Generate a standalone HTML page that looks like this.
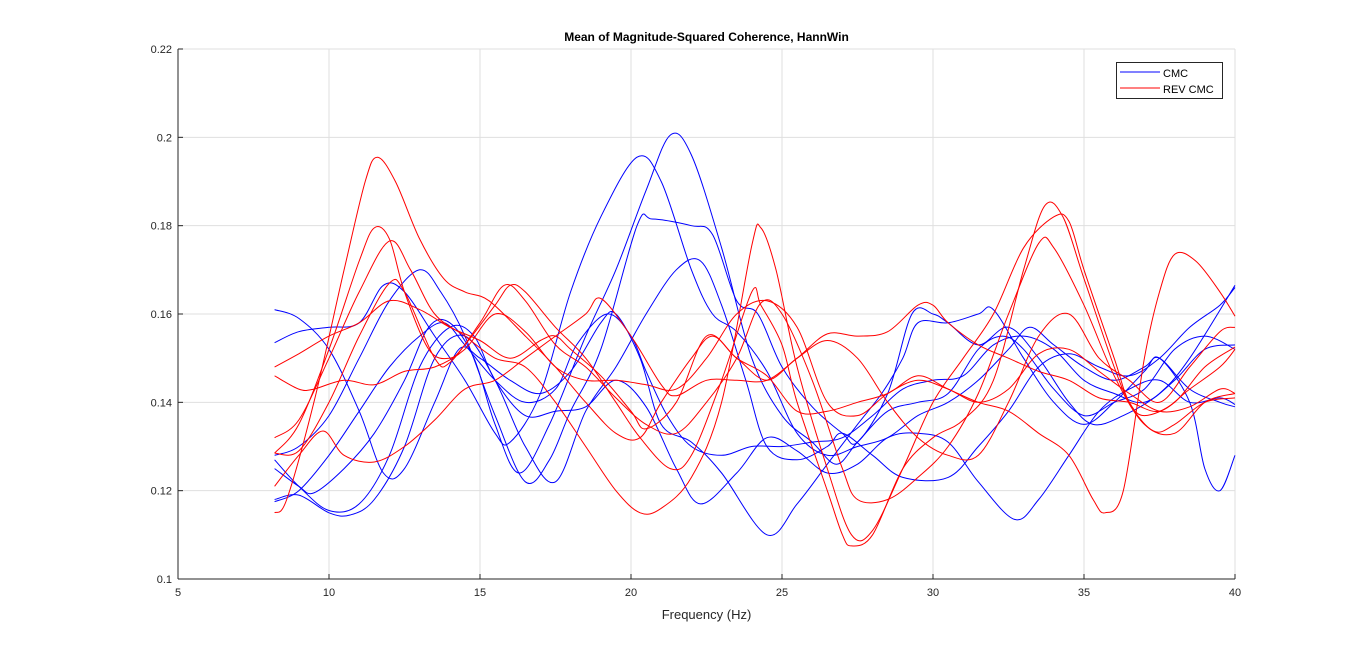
<!DOCTYPE html>
<html><head><meta charset="utf-8"><style>
body{margin:0;background:#fff;width:1366px;height:651px;overflow:hidden;font-family:"Liberation Sans",sans-serif}
</style></head><body>
<svg id="chart" width="1366" height="651" xmlns="http://www.w3.org/2000/svg" font-family="Liberation Sans, sans-serif"></svg>
<script>
const xTicks=[5,10,15,20,25,30,35,40];
const yTicks=[0.1,0.12,0.14,0.16,0.18,0.2,0.22];
const yTickLabels=["0.1","0.12","0.14","0.16","0.18","0.2","0.22"];
const cmcSeries=[
[[8.2,.1535],[9,.156],[10,.157],[11,.158],[11.8,.1665],[12.5,.165],[13.5,.155],[14.5,.145],[15.5,.133],[16,.131],[17,.142],[18,.165],[19,.182],[20.2,.1955],[21,.19],[22,.17],[22.7,.16],[23.5,.156],[24.5,.147],[25.5,.133],[26.5,.128],[27.5,.13],[28.5,.132],[29.5,.137],[30.5,.14],[31.5,.145],[32.5,.152],[33.2,.157],[34,.153],[35,.148],[36,.145],[37,.148],[37.5,.15],[38.5,.143],[39.5,.14],[40,.139]],
[[8.2,.161],[9,.159],[10,.152],[11,.138],[11.8,.124],[12.5,.125],[13.5,.14],[14.3,.152],[15,.15],[16,.145],[17,.142],[18,.147],[19,.158],[19.5,.16],[20.3,.15],[21,.135],[22,.131],[23,.124],[24.5,.11],[25.5,.117],[26.5,.126],[27.5,.135],[28.3,.142],[29,.15],[29.5,.158],[30.5,.158],[31.5,.16],[32,.161],[33,.15],[34,.14],[35,.135],[36,.14],[37,.147],[37.5,.15],[38.5,.14],[39,.125],[39.5,.12],[40,.128]],
[[8.2,.128],[9,.13],[10,.137],[11,.15],[12,.163],[13,.17],[13.7,.165],[14.5,.155],[15.5,.137],[16.5,.122],[17.3,.127],[18,.138],[19,.152],[20.2,.18],[20.7,.1815],[22,.18],[22.7,.178],[23.5,.163],[24.2,.16],[25,.148],[26,.139],[27,.133],[27.5,.131],[28.5,.142],[29.3,.16],[30,.16],[30.5,.158],[31.5,.153],[32.5,.157],[33.5,.15],[34.5,.14],[35.3,.135],[36.3,.137],[37.5,.142],[38.5,.15],[40,.1665]],
[[8.2,.125],[9,.121],[9.5,.1195],[10.5,.125],[11.5,.133],[12.5,.145],[13.3,.157],[14,.158],[14.8,.15],[15.5,.135],[16.3,.124],[17.3,.135],[18.5,.155],[19.5,.17],[20.5,.188],[21.3,.2005],[22,.196],[23,.175],[24,.15],[25,.137],[26,.131],[26.8,.126],[27.5,.131],[28.5,.138],[29.5,.14],[30.5,.142],[31.5,.152],[32.3,.155],[33,.152],[34,.143],[35,.137],[36,.14],[37,.143],[38,.152],[39,.155],[40,.152]],
[[8.2,.118],[9,.119],[10,.115],[10.7,.1145],[11.5,.118],[12.5,.13],[13.5,.15],[14.5,.155],[15.5,.145],[16.5,.13],[17.5,.122],[18.5,.138],[19.5,.148],[20.5,.16],[21.5,.17],[22.3,.172],[23,.162],[23.8,.145],[24.5,.13],[25.5,.127],[26.5,.13],[27,.133],[28,.128],[29,.123],[30.5,.123],[31.5,.13],[32.5,.138],[33.5,.148],[34.5,.151],[35.5,.148],[36.5,.146],[37.5,.15],[38.5,.157],[39.5,.162],[40,.166]],
[[8.2,.127],[9,.121],[10,.1155],[11,.117],[12,.128],[13,.148],[14,.157],[14.8,.155],[15.5,.145],[16.5,.137],[17.5,.138],[18.5,.139],[19.5,.145],[20.5,.139],[21.5,.125],[22.3,.117],[23.5,.124],[24.5,.132],[25.5,.129],[26.5,.124],[27.5,.126],[28.5,.132],[29.5,.133],[30.5,.131],[31.5,.122],[32.7,.1135],[33.5,.118],[34.5,.128],[35.5,.138],[36.5,.143],[37.5,.145],[38.5,.14],[39.5,.141],[40,.1395]],
[[8.2,.1175],[9,.12],[10,.128],[11,.138],[12,.148],[13,.155],[13.8,.158],[14.5,.153],[15.5,.145],[16.5,.14],[17.5,.143],[18.2,.153],[19.2,.16],[20,.155],[20.5,.147],[21.2,.137],[22,.13],[23,.128],[24,.13],[25,.13],[26,.131],[27,.132],[28,.137],[29,.143],[30,.145],[31,.146],[32,.153],[33,.155],[34,.152],[35,.145],[36,.142],[37,.14],[38,.145],[39,.152],[40,.153]]
];
const revSeries=[
[[8.2,.115],[8.6,.118],[9.5,.14],[10.5,.17],[11.2,.19],[11.6,.1955],[12.2,.19],[13,.177],[13.8,.168],[14.5,.165],[15.3,.163],[16.5,.155],[17.5,.148],[18.5,.14],[19.5,.133],[20.3,.132],[21,.14],[22,.15],[22.7,.155],[23.5,.15],[24.5,.146],[25.5,.138],[26.5,.138],[27.5,.14],[28.5,.142],[29.5,.146],[30.5,.143],[31.5,.14],[32.5,.138],[33.5,.133],[34.5,.128],[35.3,.118],[35.7,.115],[36.3,.12],[37,.15],[37.5,.165],[38,.1735],[38.7,.172],[39.5,.165],[40,.1595]],
[[8.2,.1285],[9,.135],[10,.152],[11,.172],[11.5,.1795],[12,.177],[12.5,.165],[13.3,.152],[14,.15],[14.5,.153],[15.5,.162],[16,.1665],[16.5,.165],[17.5,.157],[18.5,.15],[19.5,.14],[20.3,.132],[21.3,.125],[22,.128],[23,.145],[24,.165],[24.3,.162],[25,.153],[25.5,.14],[26.5,.12],[27,.11],[27.3,.1075],[28,.11],[29,.125],[30,.132],[31,.136],[32,.145],[33,.17],[33.7,.1845],[34.3,.182],[35,.168],[36,.148],[36.5,.14],[37,.137],[38,.14],[39,.148],[40,.1525]],
[[8.2,.132],[9,.136],[10,.15],[11,.165],[12,.1765],[12.7,.17],[13.5,.16],[14.5,.155],[15.5,.15],[16.5,.148],[17.5,.14],[18.5,.13],[19.5,.12],[20.3,.115],[21,.116],[22,.123],[23,.14],[24,.1755],[24.3,.1795],[24.8,.17],[25.5,.148],[26.5,.125],[27.3,.11],[28,.111],[29,.125],[30,.14],[31,.15],[32,.16],[33,.175],[34,.182],[34.5,.181],[35,.17],[36,.15],[36.5,.14],[37.3,.1335],[38,.135],[39,.14],[40,.141]],
[[8.2,.1285],[9,.129],[10,.14],[11,.155],[12,.167],[12.5,.165],[13.5,.15],[14,.149],[15,.158],[15.8,.1665],[16.5,.163],[17.5,.153],[18.5,.148],[19.5,.141],[20.5,.135],[21.5,.133],[22.5,.14],[23.5,.15],[24.3,.1625],[25,.16],[26,.145],[27,.125],[27.5,.118],[28.5,.118],[29.5,.123],[30.5,.13],[31.5,.142],[32.5,.16],[33.5,.176],[34,.175],[35,.162],[36,.146],[37,.135],[38,.133],[39,.14],[40,.142]],
[[8.2,.146],[9,.143],[9.5,.143],[10.5,.145],[11.5,.144],[12.5,.147],[13.5,.148],[14.5,.152],[15.5,.16],[16.5,.156],[17.5,.148],[18.5,.145],[19.5,.145],[20.5,.144],[21.5,.143],[22.5,.15],[23.5,.16],[24.5,.163],[25.5,.157],[26.5,.14],[27.5,.137],[28.5,.142],[29.5,.145],[30.5,.143],[31.5,.14],[32.5,.143],[33.5,.151],[34.5,.152],[35.5,.147],[36.5,.142],[37.5,.138],[38.5,.139],[39.5,.143],[40,.142]],
[[8.2,.121],[9,.128],[9.8,.1335],[10.5,.128],[11.5,.1265],[12.5,.13],[13.5,.136],[14.5,.143],[15.5,.145],[16.5,.15],[17.5,.155],[18.5,.16],[19,.1635],[20,.155],[21,.144],[21.5,.1415],[22.5,.145],[23.5,.145],[24.5,.145],[25.5,.15],[26.5,.1555],[27.5,.155],[28.5,.156],[29.5,.162],[30,.162],[30.5,.158],[31.5,.153],[32.5,.15],[33.5,.147],[34.5,.145],[35.5,.141],[36.5,.14],[37.5,.138],[38.5,.143],[39.5,.148],[40,.152]],
[[8.2,.148],[9,.151],[10,.155],[11,.158],[12,.163],[13,.161],[14,.157],[15,.154],[16,.15],[17,.154],[17.5,.155],[18,.152],[19,.146],[20,.138],[20.5,.134],[21.5,.14],[22.5,.155],[23.5,.15],[24.5,.145],[25.5,.15],[26.5,.154],[27.5,.15],[28.5,.14],[29.5,.132],[30.5,.128],[31.5,.128],[32.5,.14],[33.5,.155],[34.5,.16],[35.5,.15],[36.5,.145],[37.5,.14],[38.5,.148],[39.5,.156],[40,.157]]
];
const L=178,R=1235,T=49,B=579;
const xs=v=>L+(v-5)/(40-5)*(R-L);
const ys=v=>B-(v-0.1)/(0.22-0.1)*(B-T);
const svg=document.getElementById('chart');
const NS='http://www.w3.org/2000/svg';
function mk(tag,attrs,parent){const e=document.createElementNS(NS,tag);for(const k in attrs)e.setAttribute(k,attrs[k]);(parent||svg).appendChild(e);return e;}
xTicks.forEach(t=>{
  const g=mk('line',{x1:xs(t),x2:xs(t),y1:T,y2:B,stroke:'#dfdfdf','stroke-width':1});
  
  
  mk('line',{x1:xs(t),x2:xs(t),y1:B,y2:B-5,stroke:'#262626'});
  const lb=mk('text',{x:xs(t),y:B+17,'text-anchor':'middle','font-size':11,fill:'#262626'});
  lb.textContent=t;
  
  
});
yTicks.forEach((t,i)=>{
  const g=mk('line',{x1:L,x2:R,y1:ys(t),y2:ys(t),stroke:'#dfdfdf','stroke-width':1});
  
  
  mk('line',{x1:L,x2:L+5,y1:ys(t),y2:ys(t),stroke:'#262626'});
  const lb=mk('text',{x:L-6,y:ys(t)+4,'text-anchor':'end','font-size':11,fill:'#262626'});
  lb.textContent=yTickLabels[i];
  
  
});
function pathFor(pts){
  const p=pts.map(d=>[xs(d[0]),ys(d[1])]);
  let s='M'+p[0][0].toFixed(1)+','+p[0][1].toFixed(1);
  for(let i=0;i<p.length-1;i++){
    const p0=p[Math.max(0,i-1)],p1=p[i],p2=p[i+1],p3=p[Math.min(p.length-1,i+2)];
    const c1=[p1[0]+(p2[0]-p0[0])/6,p1[1]+(p2[1]-p0[1])/6];
    const c2=[p2[0]-(p3[0]-p1[0])/6,p2[1]-(p3[1]-p1[1])/6];
    s+='C'+c1[0].toFixed(1)+','+c1[1].toFixed(1)+' '+c2[0].toFixed(1)+','+c2[1].toFixed(1)+' '+p2[0].toFixed(1)+','+p2[1].toFixed(1);
  }
  return s;
}
cmcSeries.forEach(s=>{
  const e=mk('path',{d:pathFor(s),fill:'none',stroke:'#0000ff','stroke-width':1});
  
  
});
revSeries.forEach(s=>{
  const e=mk('path',{d:pathFor(s),fill:'none',stroke:'#ff0000','stroke-width':1});
  
  
});
const xa=mk('line',{x1:L,x2:R,y1:B,y2:B,stroke:'#262626'});


const ya=mk('line',{x1:L,x2:L,y1:T,y2:B,stroke:'#262626'});


const title=mk('text',{x:(L+R)/2,y:41,'text-anchor':'middle','font-size':12,'font-weight':'bold',fill:'#000'});
title.textContent='Mean of Magnitude-Squared Coherence, HannWin';


const xl=mk('text',{x:(L+R)/2,y:619,'text-anchor':'middle','font-size':13,fill:'#262626'});
xl.textContent='Frequency (Hz)';


const lg=mk('g',{});


mk('rect',{x:1116.5,y:62.5,width:106,height:36,fill:'#fff',stroke:'#262626'},lg);
const e1=mk('line',{x1:1120,x2:1160,y1:72,y2:72,stroke:'#0000ff'},lg);


const t1=mk('text',{x:1163,y:77,'font-size':11,fill:'#000'},lg);t1.textContent='CMC';
const e2=mk('line',{x1:1120,x2:1160,y1:88,y2:88,stroke:'#ff0000'},lg);


const t2=mk('text',{x:1163,y:93,'font-size':11,fill:'#000'},lg);t2.textContent='REV CMC';
</script>
</body></html>
